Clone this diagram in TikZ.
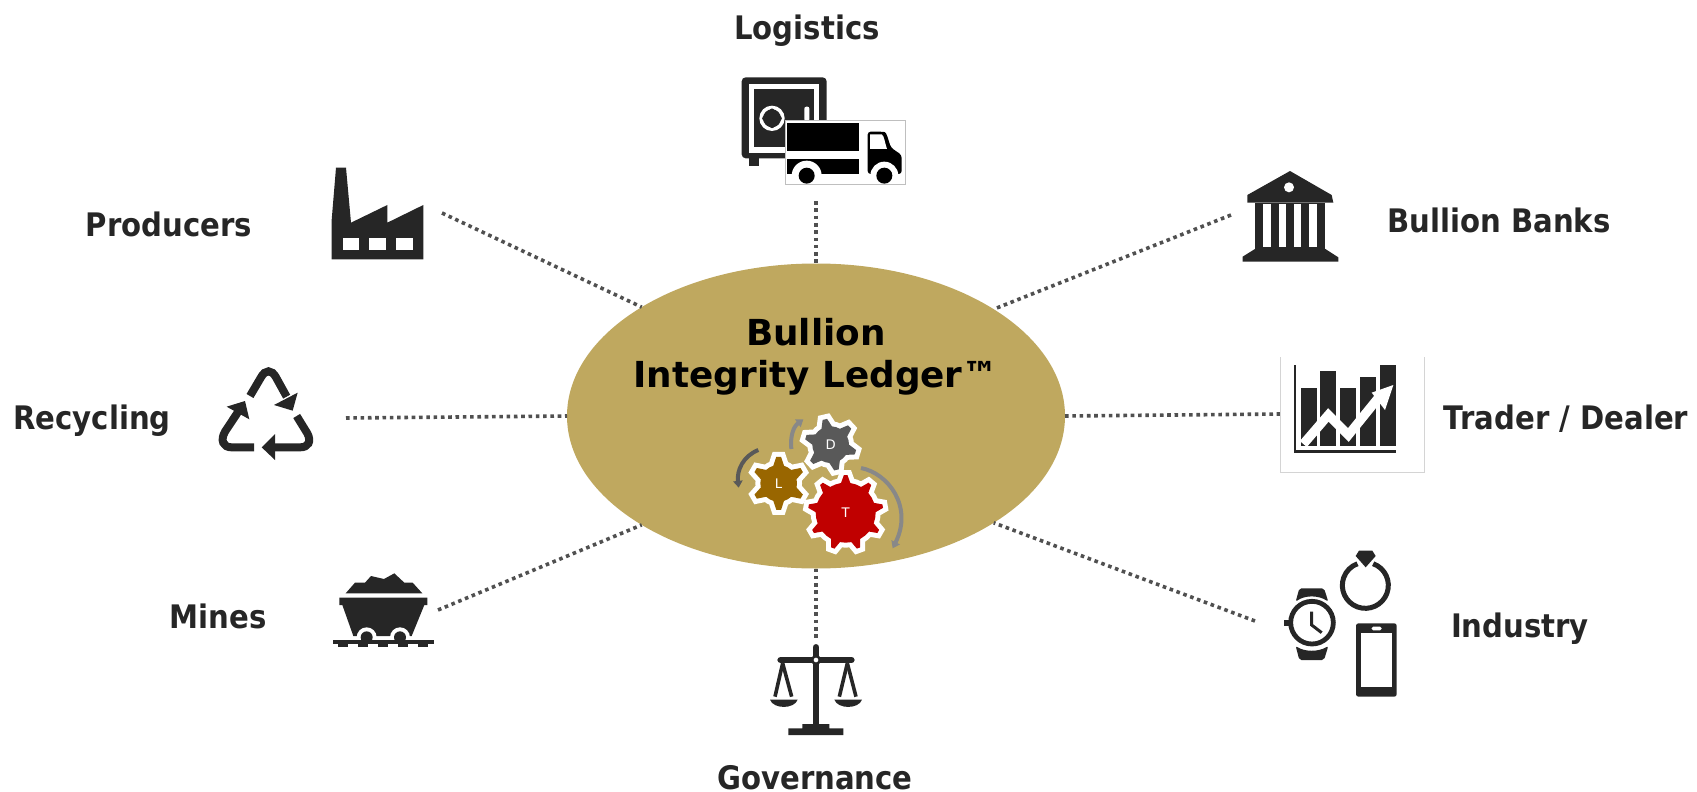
\documentclass[tikz,border=0pt]{standalone}
\usepackage{fontspec}
\setmainfont{DejaVu Sans}
\newfontfamily\titlefont{DejaVu Sans}
\newfontfamily\labelfont[FakeStretch=0.9]{DejaVu Sans}
\usetikzlibrary{shapes.geometric,arrows.meta}
\definecolor{ink}{HTML}{262626}
\definecolor{gold}{HTML}{BFA85F}
\definecolor{dotc}{HTML}{505050}
\definecolor{gearT}{HTML}{C00000}
\definecolor{gearD}{HTML}{595959}
\definecolor{gearL}{HTML}{996600}
\definecolor{arrg}{HTML}{888888}
\tikzset{
  lab/.style={font=\labelfont\fontsize{16.2}{18}\selectfont\bfseries,text=ink,inner sep=0pt,outer sep=0pt,anchor=base},
  dots/.style={line width=1.8pt,color=dotc,dash pattern=on 1.8pt off 1.85pt},
  ic/.style={fill=ink,draw=none},
  wh/.style={fill=white,draw=none},
  gearletter/.style={font=\fontsize{6.6}{7}\selectfont,text=white,inner sep=0pt},
  turn/.style={line width=#1,-{Triangle[length=3.4pt,width=4.6pt]}}
}
\newcommand\gearfig[8]{%
  \draw[white,fill=white,line width=5pt,line join=miter,miter limit=3]
    ({#1+#3*cos(#6-#8)},{#2+#3*sin(#6-#8)})
    \foreach \i in {0,...,\numexpr#5-1\relax}{
      -- ({#1+#3*cos(#6+\i*360/#5-#8)},{#2+#3*sin(#6+\i*360/#5-#8)})
      -- ({#1+#4*cos(#6+\i*360/#5-#8*.3)},{#2+#4*sin(#6+\i*360/#5-#8*.3)})
      -- ({#1+#4*cos(#6+\i*360/#5+#8*.3)},{#2+#4*sin(#6+\i*360/#5+#8*.3)})
      -- ({#1+#3*cos(#6+\i*360/#5+#8)},{#2+#3*sin(#6+\i*360/#5+#8)})
      -- ({#1+#3*cos(#6+\i*360/#5+180/#5)},{#2+#3*sin(#6+\i*360/#5+180/#5)})
    } -- cycle;
  \fill[#7]
    ({#1+#3*cos(#6-#8)},{#2+#3*sin(#6-#8)})
    \foreach \i in {0,...,\numexpr#5-1\relax}{
      -- ({#1+#3*cos(#6+\i*360/#5-#8)},{#2+#3*sin(#6+\i*360/#5-#8)})
      -- ({#1+#4*cos(#6+\i*360/#5-#8*.3)},{#2+#4*sin(#6+\i*360/#5-#8*.3)})
      -- ({#1+#4*cos(#6+\i*360/#5+#8*.3)},{#2+#4*sin(#6+\i*360/#5+#8*.3)})
      -- ({#1+#3*cos(#6+\i*360/#5+#8)},{#2+#3*sin(#6+\i*360/#5+#8)})
      -- ({#1+#3*cos(#6+\i*360/#5+180/#5)},{#2+#3*sin(#6+\i*360/#5+180/#5)})
    } -- cycle;
}
\begin{document}
\begin{tikzpicture}[x=0.5pt,y=-0.5pt]
\path[use as bounding box] (0,0) rectangle (1697,792);

% central ellipse
\node[ellipse,fill=gold,draw=none,minimum width=249pt,minimum height=152.5pt,inner sep=0pt,outer sep=0pt] (core) at (816,416) {};
\node[font=\titlefont\fontsize{17.9}{21}\selectfont\bfseries,align=center,text=black,inner sep=0pt] (title) at (816,357) {Bullion\\Integrity Ledger™};

% free ends of connectors
\coordinate (pEnd) at (442,213);
\coordinate (lEnd) at (816,201);
\coordinate (bEnd) at (1231,215);
\coordinate (tEnd) at (1280,414);
\coordinate (iEnd) at (1255,621);
\coordinate (gEnd) at (816,638);
\coordinate (mEnd) at (438,610);
\coordinate (rEnd) at (346,418);

\draw[dots] (pEnd) -- (core.148);
\draw[dots] (lEnd) -- (core.90);
\draw[dots] (bEnd) -- (core.31);
\draw[dots] (core.0) -- (tEnd);
\draw[dots] (iEnd) -- (core.-31);
\draw[dots] (core.-90) -- (gEnd);
\draw[dots] (mEnd) -- (core.212);
\draw[dots] (rEnd) -- (core.180);

% labels
\node[lab] (logistics) at (807,40) {Logistics};
\node[lab] (producers) at (169,236) {Producers};
\node[lab] (banks) at (1499,232) {Bullion Banks};
\node[lab] (trader) at (1566,429) {Trader / Dealer};
\node[lab] (recycling) at (92,429) {Recycling};
\node[lab] (industry) at (1520,637) {Industry};
\node[lab] (mines) at (218,628) {Mines};
\node[lab] (governance) at (815,789) {Governance};

% gears
\begin{scope}[shift={(680,380)},scale=1/3]
  \gearfig{296}{310}{55}{80}{6}{-90}{gearL}{17}
  \gearfig{452}{194}{55}{78}{6}{-103}{gearD}{17}
  \gearfig{497}{398}{90}{113}{9}{-90}{gearT}{9}
  \node[gearletter] (dL) at (296,310) {L};
  \node[gearletter] (dD) at (452,194) {D};
  \node[gearletter] (dT) at (497,398) {T};
  \draw[turn=2pt,arrg] (543,264) .. controls (625,280) and (700,380) .. (638,505);
  \draw[turn=2pt,arrg] (334,207) .. controls (330,170) and (340,140) .. (370,118);
  \draw[turn=2pt,gearD] (235,210) .. controls (190,228) and (170,270) .. (176,323);
\end{scope}

% safe + truck
\begin{scope}[shift={(700,0)},scale=1/3]
  \fill[ic] (148,470) rectangle (178,498);
  \fill[ic,rounded corners=2pt] (125,232) rectangle (380,475);
  \fill[wh] (148,252) rectangle (358,458);
  \fill[ic] (163,268) rectangle (343,440);
  \fill[wh] (216,355) circle[radius=38];
  \fill[ic] (216,355) circle[radius=27];
  \fill[ic,rounded corners=1pt] (216,323) -- (248,355) -- (216,387) -- (184,355) -- cycle;
  \fill[wh,rounded corners=1pt] (313,320) rectangle (328,364);
  \fill[wh] (256,361) rectangle (617,553);
  \begin{scope}
    \clip (256,361) rectangle (617,553);
    \fill[black] (261,369) rectangle (477,452);
    \fill[black] (261,478) rectangle (477,522);
    \fill[black,rounded corners=1.5pt] (503,395) -- (545,395) .. controls (560,397) and (565,420) .. (573,443) -- (605,465) -- (605,522) -- (503,522) -- cycle;
    \fill[wh] (510,403) -- (545,403) .. controls (552,405) and (555,430) .. (561,447) -- (510,447) -- cycle;
    \fill[wh] (320,527) circle[radius=45];
    \fill[wh] (553,527) circle[radius=42];
    \fill[black] (320,527) circle[radius=24];
    \fill[black] (553,527) circle[radius=24];
  \end{scope}
  \draw[black!25,line width=0.5pt] (256,361) rectangle (617,553);
\end{scope}

% factory
\begin{scope}[shift={(300,150)},scale=1/3]
  \fill[ic] (108,53) -- (138,53) -- (153,218) -- (262,165) -- (262,218) -- (370,165) -- (370,328) -- (95,328) -- (95,210) -- cycle;
  \fill[wh] (128,263) rectangle (177,300);
  \fill[wh] (208,263) rectangle (257,300);
  \fill[wh] (289,263) rectangle (338,300);
\end{scope}

% recycling
\begin{scope}[shift={(200,350)},scale=1/3]
  \draw[ink,line width=4pt] (150,138) -- (183,82) .. controls (196,58) and (215,58) .. (228,82) -- (260,140);
  \fill[ink] (293,128) -- (278,182) -- (222,165) -- cycle;
  \draw[ink,line width=4pt] (290,198) -- (322,250) .. controls (335,275) and (325,292) .. (300,292) -- (222,292);
  \fill[ink] (225,252) -- (185,292) -- (225,330) -- cycle;
  \draw[ink,line width=4pt] (162,292) -- (95,292) .. controls (70,292) and (60,272) .. (75,245) -- (118,180);
  \fill[ink] (135,153) -- (80,170) -- (148,208) -- cycle;
\end{scope}

% mine cart
\begin{scope}[shift={(310,560)},scale=1/3]
  \fill[ic] (107,100) -- (135,68) -- (165,68) -- (183,48) -- (222,57) -- (253,40) -- (283,68) -- (308,68) -- (337,100) -- cycle;
  \fill[ic] (88,113) -- (352,113) -- (352,135) -- (343,135) -- (305,228) -- (130,228) -- (97,135) -- (88,135) -- cycle;
  \fill[wh] (170,232) circle[radius=30];
  \fill[wh] (270,232) circle[radius=30];
  \fill[ic] (170,232) circle[radius=18];
  \fill[ic] (270,232) circle[radius=18];
  \fill[ic] (68,240) rectangle (372,252);
  \foreach \tx in {85,145,205,265,325}{\fill[ic] (\tx,250) rectangle (\tx+28,262);}
\end{scope}

% balance
\begin{scope}[shift={(740,630)},scale=1/3]
  \draw[ink,line width=3.3pt,line cap=round] (228,52) -- (228,285);
  \draw[ink,line width=3.3pt,line cap=round] (122,90) -- (334,90);
  \fill[ink] (228,90) circle[radius=15];
  \fill[wh] (228,90) circle[radius=7];
  \fill[ic] (145,315) -- (145,295) -- (187,295) -- (187,282) -- (268,282) -- (268,295) -- (310,295) -- (310,315) -- cycle;
  \draw[ink,line width=1.8pt] (128,100) -- (105,200);
  \draw[ink,line width=1.8pt] (128,100) -- (155,200);
  \draw[ink,line width=1.8pt] (322,100) -- (298,200);
  \draw[ink,line width=1.8pt] (322,100) -- (348,200);
  \fill[ic] (90,209) .. controls (100,238) and (163,238) .. (173,209) -- cycle;
  \fill[ic] (283,209) .. controls (293,238) and (356,238) .. (366,209) -- cycle;
\end{scope}

% ring, watch, phone
\begin{scope}[shift={(1260,560)},scale=1/3]
  \draw[ink,line width=2.5pt] (316,76) ++(-70:69) arc[start angle=-70,end angle=250,radius=69];
  \fill[ic] (297,-28) -- (337,-28) -- (347,-12) -- (317,22) -- (287,-12) -- cycle;
  \draw[ink,line width=2.4pt] (156,188) circle[radius=64];
  \fill[ic] (73,180) rectangle (90,198);
  \draw[ink,line width=1.5pt] (155,155) -- (155,195) -- (185,218);
  \fill[ic,rounded corners=1pt] (118,85) -- (192,85) -- (205,125) .. controls (175,105) and (135,105) .. (107,125) -- cycle;
  \fill[ic,rounded corners=1pt] (107,258) .. controls (135,276) and (175,276) .. (205,258) -- (192,300) -- (118,300) -- cycle;
  \fill[ic,rounded corners=1.2pt] (288,190) rectangle (410,410);
  \fill[wh] (302,220) rectangle (395,380);
  \fill[wh,rounded corners=0.8pt] (335,200) rectangle (365,211);
\end{scope}

% chart
\begin{scope}[shift={(1270,350)},scale=1/3]
  \draw[black!17,line width=0.5pt] (31,22) -- (31,367) -- (464,367) -- (464,22);
  \draw[ink,line width=1.2pt] (75,45) -- (75,305) -- (378,305);
  \fill[ic] (92,113) rectangle (140,287);
  \fill[ic] (151,62) rectangle (198,287);
  \fill[ic] (211,113) rectangle (258,287);
  \fill[ic] (271,82) rectangle (318,287);
  \fill[ic] (331,45) rectangle (378,287);
  \draw[white,line width=4.6pt] (100,282) -- (175,195) -- (235,255) -- (328,140);
  \fill[wh] (370,105) -- (305,128) -- (345,180) -- cycle;
\end{scope}

% bank
\begin{scope}[shift={(1230,160)},scale=1/3]
  \fill[ic] (180,33) -- (305,105) -- (310,128) -- (52,128) -- (52,105) -- cycle;
  \fill[wh] (177,82) circle[radius=15];
  \fill[ic] (75,128) rectangle (285,268);
  \foreach \sx in {100,146,192,238}{\fill[wh] (\sx,133) rectangle (\sx+22,262);}
  \fill[ic] (78,265) -- (283,265) -- (325,292) -- (325,305) -- (38,305) -- (38,290) -- cycle;
\end{scope}
\end{tikzpicture}
\end{document}
